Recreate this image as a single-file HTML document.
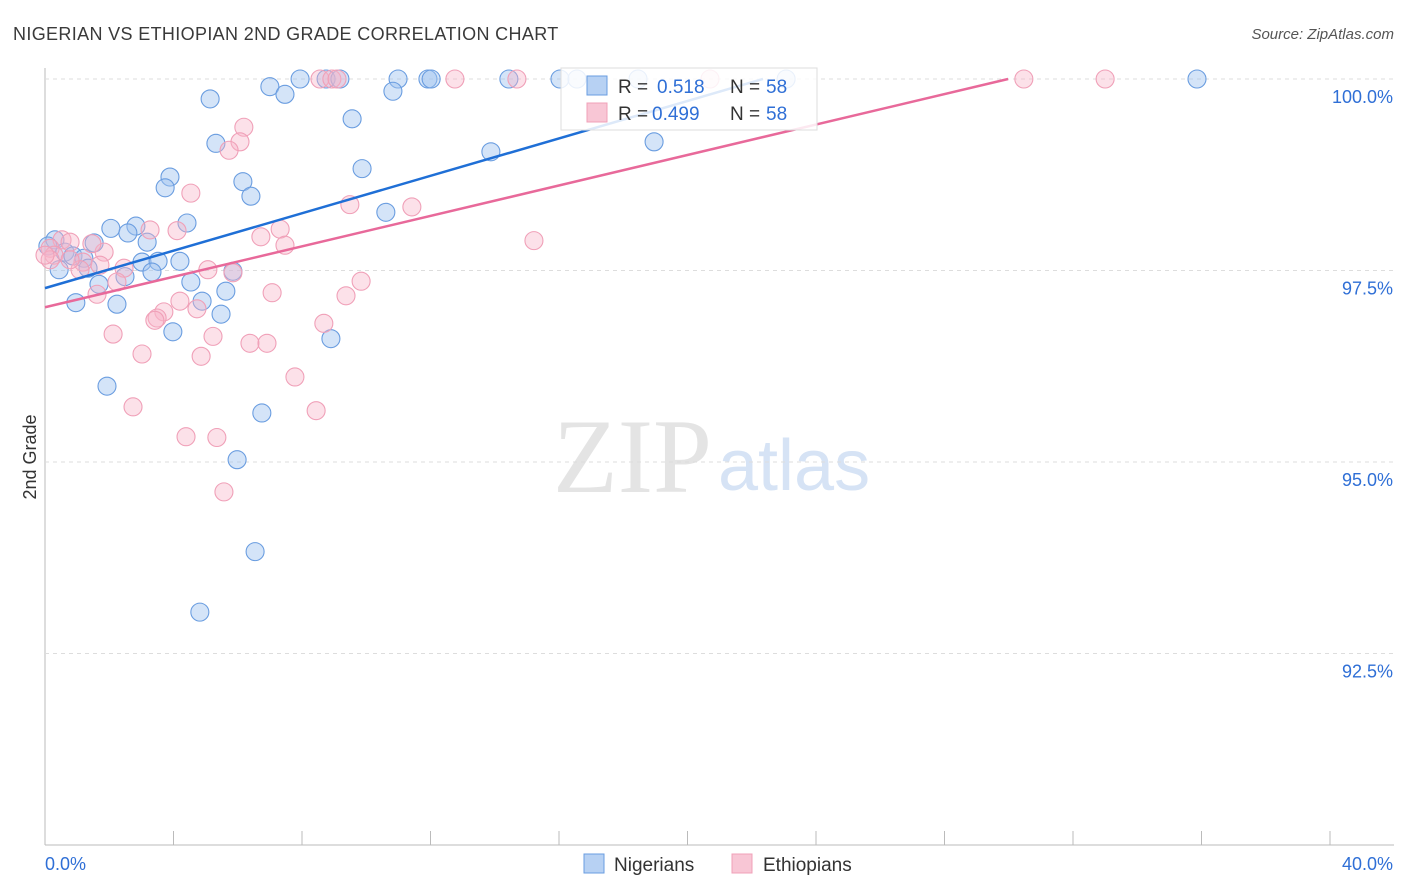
<!DOCTYPE html>
<html><head><meta charset="utf-8">
<style>
body{margin:0;background:#fff;font-family:"Liberation Sans",sans-serif;}
#wrap{position:relative;width:1406px;height:892px;overflow:hidden;}
</style></head>
<body>
<div id="wrap">
<svg id="svg" width="1406" height="892" xmlns="http://www.w3.org/2000/svg">
<text x="13" y="40" font-size="18" fill="#3a3a3a" letter-spacing="0.35">NIGERIAN VS ETHIOPIAN 2ND GRADE CORRELATION CHART</text>
<text x="1394" y="39" font-size="15" fill="#555" font-style="italic" text-anchor="end">Source: ZipAtlas.com</text>
<text x="36" y="457" font-size="18" fill="#333" transform="rotate(-90 36 457)" text-anchor="middle">2nd Grade</text>
<text x="553" y="492" font-size="106" fill="#e4e4e4" font-family="Liberation Serif,serif">ZIP</text>
<text x="718" y="490" font-size="72" fill="#d6e3f5">atlas</text>
<g id="grid"></g><g id="pts"></g><g id="lines"></g>
<g>
<rect x="561" y="68" width="256" height="62" fill="rgba(255,255,255,0.85)" stroke="#ddd"/>
<rect x="587" y="76" width="20" height="19" fill="#b7d1f3" stroke="#6a9de0"/>
<text x="618" y="93" font-size="19" fill="#333">R = </text><text x="657" y="93" font-size="19" fill="#2f6fd6">0.518</text>
<text x="730" y="93" font-size="19" fill="#333">N = </text><text x="766" y="93" font-size="19" fill="#2f6fd6">58</text>
<rect x="587" y="103" width="20" height="19" fill="#f8c6d5" stroke="#f0a0b8"/>
<text x="618" y="120" font-size="19" fill="#333">R = </text><text x="652" y="120" font-size="19" fill="#2f6fd6">0.499</text>
<text x="730" y="120" font-size="19" fill="#333">N = </text><text x="766" y="120" font-size="19" fill="#2f6fd6">58</text>
</g>
<g><rect x="584" y="854" width="20" height="19" fill="#b7d1f3" stroke="#6a9de0"/><text x="614" y="871" font-size="19" fill="#333">Nigerians</text></g>
<g><rect x="732" y="854" width="20" height="19" fill="#f8c6d5" stroke="#f0a0b8"/><text x="763" y="871" font-size="19" fill="#333">Ethiopians</text></g>
</svg>
</div>
<script>
const yTicks=[100,97.5,95,92.5];
const yTickLabels=["100.0%","97.5%","95.0%","92.5%"];
const xTickLabels=["0.0%","40.0%"];
const nigX=[7.00,7.47,7.94,8.75,9.18,10.99,11.92,12.02,14.44,16.03,16.56,18.46,23.07,35.86,5.14,10.83,9.56,5.32,13.88,18.96,3.89,3.74,6.16,6.41,9.87,10.61,4.42,2.83,2.05,2.58,3.18,1.53,0.31,0.09,0.62,0.87,1.21,0.44,1.34,3.02,3.52,4.20,3.33,2.49,5.85,4.54,1.68,5.63,0.96,2.24,4.89,5.48,3.98,8.90,1.93,6.75,5.98,6.54,4.82];
const nigY=[99.90,99.80,100,100,100,100,100,100,100,100,100,100,100,100,99.74,99.84,99.48,99.16,99.05,99.18,98.72,98.58,98.66,98.47,98.83,98.26,98.12,98.08,98.05,97.99,97.87,97.86,97.90,97.82,97.74,97.69,97.66,97.51,97.53,97.61,97.62,97.62,97.48,97.42,97.49,97.35,97.32,97.23,97.08,97.06,97.10,96.93,96.70,96.61,95.99,95.64,95.03,93.83,93.04];
const ethX=[8.56,8.93,9.09,12.76,14.69,20.70,30.47,33.00,6.19,6.07,5.73,4.54,9.49,11.42,15.22,7.32,6.72,7.47,4.11,3.27,0.53,0.78,0.16,0.28,1.18,1.84,1.46,2.46,1.71,1.09,2.24,1.62,5.07,5.85,9.37,9.84,7.07,4.20,4.73,3.70,3.49,3.42,8.68,2.12,5.23,6.38,6.91,3.02,4.86,7.78,2.74,8.44,4.39,5.35,5.57,0.16,0.0,0.78];
const ethY=[100,100,100,100,100,100,100,100,99.37,99.18,99.07,98.51,98.36,98.33,97.89,98.04,97.94,97.83,98.02,98.03,97.90,97.87,97.79,97.70,97.61,97.74,97.85,97.53,97.57,97.51,97.35,97.19,97.51,97.47,97.17,97.36,97.21,97.10,97.00,96.96,96.88,96.85,96.81,96.67,96.64,96.55,96.55,96.41,96.38,96.11,95.72,95.67,95.33,95.32,94.61,97.64,97.70,97.64];
const nigTrend=[[0,97.27],[22.35,100]];
const ethTrend=[[0,97.02],[29.98,100]];
const NS="http://www.w3.org/2000/svg";
const X=v=>45+v*32.125, Y=v=>79+(100-v)*76.6;
function mk(t,a,p){const e=document.createElementNS(NS,t);for(const k in a)e.setAttribute(k,a[k]);document.getElementById(p).appendChild(e);return e;}
let ax=mk('line',{x1:45,y1:68,x2:45,y2:845,stroke:'#bbb'},'grid');


let bx=mk('line',{x1:45,y1:845,x2:1394,y2:845,stroke:'#bbb'},'grid');


for(let i=0;i<=10;i++){let t=mk('line',{x1:X(i*4),y1:831,x2:X(i*4),y2:845,stroke:'#bbb'},'grid');

}
yTicks.forEach((v,i)=>{let l=mk('line',{x1:45,y1:Y(v),x2:1394,y2:Y(v),stroke:'#ddd','stroke-dasharray':'4,4'},'grid');


let t=mk('text',{x:1393,y:Y(v)+24,'font-size':18,fill:'#2f6fd6','text-anchor':'end'},'grid');t.textContent=yTickLabels[i];

});
let xl=mk('text',{x:45,y:870,'font-size':18,fill:'#2f6fd6'},'grid');xl.textContent=xTickLabels[0];


let xr=mk('text',{x:1393,y:870,'font-size':18,fill:'#2f6fd6','text-anchor':'end'},'grid');xr.textContent=xTickLabels[1];


nigX.forEach((v,i)=>{let c=mk('circle',{cx:X(v),cy:Y(nigY[i]),r:9,fill:'rgba(160,196,240,0.45)',stroke:'#6a9de0','stroke-width':1.1},'pts');

});
ethX.forEach((v,i)=>{let c=mk('circle',{cx:X(v),cy:Y(ethY[i]),r:9,fill:'rgba(248,180,200,0.4)',stroke:'#f0a0b8','stroke-width':1.1},'pts');

});
let l1=mk('line',{x1:X(nigTrend[0][0]),y1:Y(nigTrend[0][1]),x2:X(nigTrend[1][0]),y2:Y(nigTrend[1][1]),stroke:'#1f6fd6','stroke-width':2.5},'lines');


let l2=mk('line',{x1:X(ethTrend[0][0]),y1:Y(ethTrend[0][1]),x2:X(ethTrend[1][0]),y2:Y(ethTrend[1][1]),stroke:'#e8699a','stroke-width':2.5},'lines');


</script>
</body></html>
